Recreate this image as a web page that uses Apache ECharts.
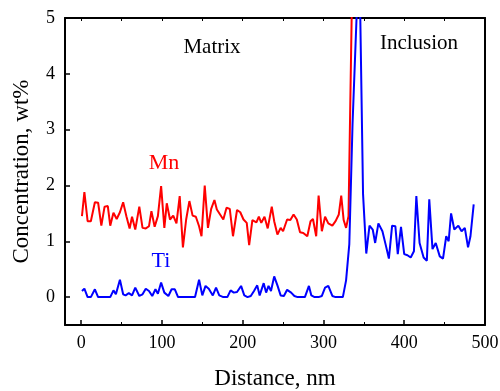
<!DOCTYPE html>
<html>
<head>
<meta charset="utf-8">
<script src="https://cdn.jsdelivr.net/npm/echarts@6/dist/echarts.min.js"></script>
<style>
  html, body { margin: 0; padding: 0; background: #fff; }
  #chart { width: 500px; height: 391px; }
</style>
</head>
<body>
<div id="chart"></div>
<script>
// Mn profile (distance nm, wt%)
const mnDist = [1, 4, 8, 12, 17, 21, 25, 29, 33, 36, 40, 44, 48, 52, 56, 60, 63, 67, 72, 76,
  80, 84, 87, 91, 95, 99, 103, 106, 110, 114, 118, 122, 126, 130, 134, 138, 142, 146, 149, 153,
  157, 161, 165, 168, 172, 176, 180, 184, 188, 193, 197, 201, 205, 208, 212, 217, 220, 223, 227, 231,
  236, 239, 243, 247, 250, 255, 259, 263, 267, 271, 275, 280, 284, 287, 291, 294, 298, 302, 306, 311,
  315, 319, 322, 325, 328, 331, 336]
const mnConc = [1.45, 1.88, 1.36, 1.36, 1.70, 1.69, 1.28, 1.62, 1.63, 1.28, 1.51, 1.40, 1.52, 1.70, 1.45, 1.23, 1.44, 1.21, 1.62, 1.24,
  1.23, 1.27, 1.54, 1.26, 1.45, 1.99, 1.24, 1.68, 1.39, 1.46, 1.32, 1.81, 0.89, 1.39, 1.72, 1.46, 1.44, 1.27, 1.09, 2.00,
  1.24, 1.58, 1.74, 1.57, 1.48, 1.39, 1.60, 1.58, 1.09, 1.56, 1.52, 1.39, 1.33, 0.93, 1.38, 1.34, 1.44, 1.33, 1.44, 1.23,
  1.62, 1.36, 1.12, 1.24, 1.18, 1.39, 1.38, 1.48, 1.39, 1.16, 1.15, 1.09, 1.36, 1.40, 1.09, 1.82, 1.18, 1.44, 1.32, 1.28,
  1.36, 1.48, 1.82, 1.38, 1.24, 1.45, 6.0]

// Ti profile (distance nm, wt%)
const tiDist = [1, 4, 8, 12, 17, 21, 36, 40, 43, 48, 52, 55, 59, 63, 67, 72, 76, 80, 84, 88,
  92, 95, 99, 103, 108, 112, 116, 120, 141, 146, 150, 154, 158, 163, 167, 171, 176, 181, 185, 189,
  193, 198, 202, 206, 210, 214, 218, 221, 226, 229, 232, 235, 239, 243, 247, 251, 255, 260, 264, 268,
  277, 282, 285, 289, 294, 298, 302, 306, 311, 315, 324, 328, 332, 336, 342, 344, 349, 353, 357, 361,
  364, 368, 373, 377, 381, 385, 389, 392, 396, 400, 404, 408, 412, 415, 419, 424, 428, 431, 435, 439,
  444, 448, 452, 455, 458, 462, 467, 471, 475, 479, 482, 486]
const tiConc = [0.11, 0.15, 0, 0, 0.14, 0, 0, 0.12, 0.05, 0.31, 0.05, 0.03, 0.07, 0.03, 0.17, 0.02, 0.05, 0.15, 0.11, 0.02,
  0.14, 0.06, 0.26, 0.08, 0.02, 0.14, 0.14, 0, 0, 0.31, 0.03, 0.20, 0.15, 0.03, 0.17, 0.03, 0, 0, 0.12, 0.08,
  0.09, 0.20, 0.03, 0, 0.02, 0.11, 0.21, 0.03, 0.25, 0.08, 0.20, 0.11, 0.37, 0.21, 0.03, 0.02, 0.13, 0.08, 0.02, 0,
  0, 0.20, 0.03, 0, 0, 0.02, 0.17, 0.20, 0.02, 0, 0, 0.30, 0.95, 3.1, 5.4, 6.5, 1.85, 0.78, 1.28, 1.21,
  0.97, 1.32, 1.18, 0.94, 0.69, 1.28, 1.27, 0.77, 1.26, 0.77, 0.75, 0.71, 0.82, 1.81, 0.97, 0.71, 0.65, 1.75, 0.86, 0.97,
  0.73, 0.69, 1.09, 1.00, 1.50, 1.21, 1.28, 1.18, 1.24, 0.89, 1.09, 1.66]

const xTicks = [0, 100, 200, 300, 400, 500]
const xMinorTicks = [50, 150, 250, 350, 450]
const yTicks = [0, 1, 2, 3, 4, 5]

const serif = '"Liberation Serif", "DejaVu Serif", serif'

let chart = echarts.init(document.getElementById('chart'), null, {renderer: 'canvas'})

function pairs(xs, ys) {
    return xs.map((x, i) => [x, ys[i]])
}

let axisLine = {show: true, onZero: false, lineStyle: {color: '#000', width: 2}}

chart.setOption({
    animation: false,
    grid: {left: 65, right: 15, top: 18, bottom: 66, containLabel: false, outerBoundsMode: 'none'},
    xAxis: [
        {
            type: 'value', min: -20, max: 500, position: 'bottom',
            name: 'Distance, nm', nameLocation: 'middle', nameGap: 42,
            nameTextStyle: {fontFamily: serif, fontSize: 23, color: '#000'},
            axisLine,
            axisTick: {show: true, inside: true, length: 5, customValues: xTicks, lineStyle: {color: '#000', width: 1.5}},
            axisLabel: {customValues: xTicks, fontFamily: serif, fontSize: 18, color: '#000', margin: 9},
            splitLine: {show: false}
        },
        {
            type: 'value', min: -20, max: 500, position: 'bottom',
            axisLine: {show: false, onZero: false},
            axisTick: {show: true, inside: true, length: 3, customValues: xMinorTicks, lineStyle: {color: '#000', width: 1}},
            axisLabel: {show: false},
            splitLine: {show: false}
        },
        {
            type: 'value', min: -20, max: 500, position: 'top',
            axisLine,
            axisTick: {show: true, inside: true, length: 3, customValues: xTicks.concat(xMinorTicks), lineStyle: {color: '#000', width: 1}},
            axisLabel: {show: false},
            splitLine: {show: false}
        }
    ],
    yAxis: [
        {
            type: 'value', min: -0.5, max: 5, position: 'left',
            name: 'Concentration, wt%', nameLocation: 'middle', nameGap: 32,
            nameTextStyle: {fontFamily: serif, fontSize: 23, color: '#000'},
            axisLine,
            axisTick: {show: true, inside: true, length: 5, customValues: yTicks, lineStyle: {color: '#000', width: 1.5}},
            axisLabel: {customValues: yTicks, fontFamily: serif, fontSize: 18, color: '#000', margin: 10},
            splitLine: {show: false}
        },
        {
            type: 'value', min: -0.5, max: 5, position: 'right',
            axisLine,
            axisTick: {show: false},
            axisLabel: {show: false},
            splitLine: {show: false}
        }
    ],
    series: [
        {
            name: 'Mn', type: 'line', data: pairs(mnDist, mnConc),
            showSymbol: false, clip: true,
            lineStyle: {color: '#ff0000', width: 2}
        },
        {
            name: 'Ti', type: 'line', data: pairs(tiDist, tiConc),
            showSymbol: false, clip: true,
            lineStyle: {color: '#0000ff', width: 2}
        }
    ],
    graphic: [
        {type: 'text', x: 212, y: 47, style: {text: 'Matrix', fontFamily: serif, fontSize: 21, fill: '#000', align: 'center', verticalAlign: 'middle'}},
        {type: 'text', x: 419, y: 43, style: {text: 'Inclusion', fontFamily: serif, fontSize: 21, fill: '#000', align: 'center', verticalAlign: 'middle'}},
        {type: 'text', x: 164, y: 163, style: {text: 'Mn', fontFamily: serif, fontSize: 22, fill: '#ff0000', align: 'center', verticalAlign: 'middle'}},
        {type: 'text', x: 161, y: 261, style: {text: 'Ti', fontFamily: serif, fontSize: 22, fill: '#0000ff', align: 'center', verticalAlign: 'middle'}}
    ]
})
</script>
</body>
</html>
